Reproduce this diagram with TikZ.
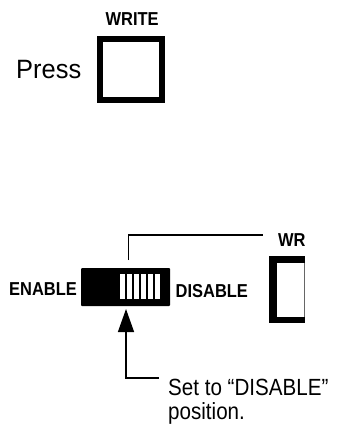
\documentclass[tikz,border=0pt]{standalone}
\usepackage{fontspec}
\setmainfont{Liberation Sans}
\newfontfamily\narrowfont[FakeStretch=0.88,Ligatures=TeX]{Liberation Sans}
\newfontfamily\pressfont[FakeStretch=0.96]{Liberation Sans}
\usepackage{xcolor}
\usepackage{tikz}
\usetikzlibrary{
    positioning,
    arrows.meta,
    calc
}

\begin{document}
\begin{tikzpicture}[
    x=1pt,
    y=-1pt,
    font=\sffamily,
    label/.style={
        inner sep=0pt,
        anchor=base west,
        font=\narrowfont\bfseries\fontsize{18.7}{20}\selectfont
    },
    note/.style={
        inner sep=0pt,
        anchor=base west,
        font=\narrowfont\fontsize{23.4}{26}\selectfont
    },
    button/.style={
        draw=black,
        line width=6pt,
        fill=white,
        minimum width=62pt,
        minimum height=61pt,
        inner sep=0pt
    },
    slider/.style={
        fill=black,
        rounded corners=1pt,
        minimum width=89pt,
        minimum height=38pt,
        inner sep=0pt
    },
    arrow/.style={
        -{Triangle[length=23pt,width=16pt]},
        line width=1.4pt,
        draw=black
    },
    leader/.style={
        line width=1.1pt,
        draw=black
    }
]
\useasboundingbox (0,0) rectangle (337,425);

% Write button
\node[label] (writetop) at (105.5,26) {WRITE};
\node[button] (writekey) at (131,69.5) {};
\node[note, font=\pressfont\fontsize{26.5}{28}\selectfont] (press) at (16,79) {Press};

% Switch
\node[slider] (switch) at (125.5,287) {};
\foreach \i in {0,...,5}
    \fill[white] (120+\i*7,274) rectangle ++(4.6,24.5);
\node[label] (enable) at (9,295) {ENABLE};
\node[label] (disable) at (175.5,297) {DISABLE};

% Cut-off button
\node[label] (wr) at (278,246) {WR};
\fill[black] (269,256) rectangle (305,323);
\fill[white] (277,263) rectangle (304,317);
\draw[black!60, line width=0.5pt] (304.5,263) -- (304.5,317);

% Leader to the button
\coordinate (leaderstart) at (128.5,260);
\coordinate (leaderend) at (263,235);
\draw[leader] (leaderstart) |- (leaderend);

% Note with arrow
\node[note] (setto) at (168,395) {Set to ``DISABLE''};
\node[note] (position) at (168,419) {position.};
\coordinate (arrowstart) at (159,378);
\coordinate (arrowtip) at (126,309);
\draw[arrow] (arrowstart) -| (arrowtip);

\end{tikzpicture}
\end{document}
